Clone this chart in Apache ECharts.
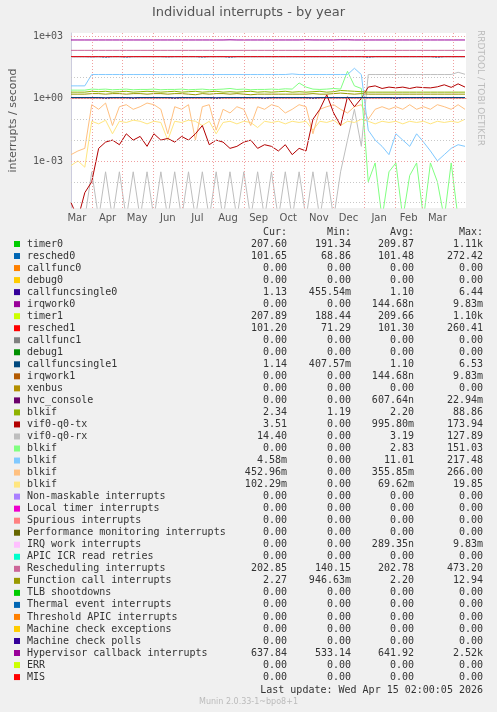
<!DOCTYPE html>
<html><head><meta charset="utf-8">
<script src="https://cdn.jsdelivr.net/npm/echarts@6/dist/echarts.min.js"></script>
<style>html,body{margin:0;background:#f0f0f0}#c{width:497px;height:712px}</style>
</head><body><div id="c"></div>
<script>
// ---- data ----
const startDate = '2025-03-10';
const endDate = '2026-04-14';
const monthStarts = ['2025-04-01','2025-05-01','2025-06-01','2025-07-01','2025-08-01','2025-09-01','2025-10-01','2025-11-01','2025-12-01','2026-01-01','2026-02-01','2026-03-01','2026-04-01'];
const monthLabelDates = ['2025-03-16','2025-04-16','2025-05-16','2025-06-16','2025-07-16','2025-08-16','2025-09-16','2025-10-16','2025-11-16','2025-12-16','2026-01-16','2026-02-15','2026-03-16'];
const monthNames = ['Mar','Apr','May','Jun','Jul','Aug','Sep','Oct','Nov','Dec','Jan','Feb','Mar'];
const yTickValues = [1e3, 1, 1e-3];
const yTickLabels = ['1e+03','1e+00','1e-03'];
const decades = [1e3,1e2,1e1,1,1e-1,1e-2,1e-3,1e-4,1e-5];

// weekly samples (58 weeks from Mar 10 2025)
const hypervisor = [638,638,638,638,638,638,638,638,638,638,638,638,638,638,638,638,638,638,638,638,638,638,638,650,638,638,638,638,638,638,638,638,638,638,650,640,638,638,638,650,650,638,638,638,638,638,638,638,638,638,638,638,638,638,638,638,638,638];
const rescheduling = [203,203,203,203,203,203,203,203,203,203,203,203,203,203,203,203,203,203,203,203,203,203,203,203,203,203,203,203,203,203,203,203,203,203,203,203,203,203,203,203,203,203,203,203,203,203,203,203,203,203,203,203,203,203,203,203,203,203];
const resched0 = [101,101,101,98,101,95,101,101,96,101,101,101,101,101,98,101,101,101,101,96,101,101,101,95,101,101,101,101,101,101,101,101,101,101,101,101,101,101,101,101,101,101,101,95,101,101,101,101,101,101,101,101,101,95,101,101,101,101];
const resched1 = [101,101,101,101,101,101,101,101,101,101,101,101,101,101,101,101,101,101,101,101,101,101,101,101,101,101,101,101,101,101,101,101,101,101,101,101,101,101,101,101,101,101,101,101,101,101,101,101,101,101,101,101,101,101,101,101,101,101];
const blkifBlue = [4,4,4,14,14,14,14,14,14,14,14,14,14,14,14,14,14,14,14,14,14,14,14,14,14,14,14,14,14,14,14,14,15,14,14,14,14,14,14,14,14,28,14,0.03,0.01,0.005,0.002,0.02,0.01,0.005,0.02,0.008,0.003,0.001,0.002,0.004,0.006,0.005];
const vifRx = [0,0,0,0.0003,0,0.0003,0,0.0003,0,0.0003,0,0.0003,0,0.0003,0,0.0003,0,0.0003,0,0.0003,0,0.0003,0,0.0003,0,0.0003,0,0.0003,0,0.0003,0,0.0003,0,0.0003,0,0.0003,0,0.0003,0,0.0003,0.01,0.3,0.005,14,14,14,14,14,14,14,14,14,14,14,14,14,18,14.4];
const vifTx = [0.00001,0,0.00003,0.0001,0.004,0.008,0.01,0.006,0.02,0.01,0.015,0.005,0.02,0.01,0.012,0.008,0.015,0.01,0.02,0.05,0.006,0.01,0.008,0.004,0.005,0.008,0.01,0.004,0.006,0.005,0.003,0.006,0.002,0.004,0.003,0.1,0.3,1.5,0.2,0.05,1.2,0.4,1,3.5,4,3,3.5,3.2,3.5,3,3.5,3.3,3.2,3.6,4.5,3.4,5,3.5];
const blkifGreen = [2.5,2.5,2.5,2.8,2.7,2.8,2.6,2.7,2.8,2.6,2.7,2.7,2.8,2.6,2.7,2.7,2.8,2.6,2.7,2.8,2.6,2.7,2.8,3,2.7,2.8,2.6,2.7,2.7,2.8,2.7,2.9,2.8,5.5,3.5,2.8,2.7,2.8,3,2.8,20,4,3,0.0001,0.0008,0,0.0003,0.0008,0,0.0002,0.0008,0,0.0008,0.0001,0,0.0008,0,0];
const blkifOlive = [2,2,2,2.2,2.1,2.2,2,2.1,2.2,2,2.1,2.2,2.1,2,2.1,2.2,2,2.1,2.2,2,2.1,2.2,2,2.1,2,2.1,2.2,2,2.1,2,2.1,2.2,2,2.1,2,2.1,2.2,2,2.1,2.4,2.3,2.2,2.1,2,2,2,2,2,2,2,2,2,2,2,2,2,2,2];
const funcCall = [1.6,1.6,1.6,1.7,1.7,1.6,1.7,1.7,1.6,1.7,1.7,1.6,1.7,1.7,1.6,1.7,1.7,1.6,1.5,1.7,1.6,1.7,1.7,1.6,1.7,1.6,1.5,1.6,1.6,1.6,1.6,1.6,1.6,1.6,1.6,1.7,1.6,1.6,1.7,1.8,1.7,1.6,1.7,1.6,1.6,1.6,1.6,1.6,1.6,1.6,1.6,1.6,1.6,1.6,1.6,1.6,1.6,1.6];
const callfuncsingle = [1.1,1.1,1.1,1.1,1.1,1.05,1.1,1.1,1.1,1.05,1.1,1.1,1.1,1.1,1.1,1.05,1.1,1.1,1.1,1.1,1.1,1.05,1.1,1.1,1.1,1.1,1.1,1.1,1.05,1.1,1.1,1.1,1.1,1.1,1.1,1.05,1.1,1.1,1.1,1.1,1.1,1.1,1.1,1.1,1.1,1.1,1.1,1.05,1.1,1.1,1.1,1.1,1.1,1.1,1.1,1.1,1.1,1.1];
const blkifOrange = [0.002,0.003,0.004,0.5,0.3,0.6,0.05,0.4,0.5,0.3,0.4,0.6,0.5,0.3,0.02,0.4,0.3,0.5,0.01,0.4,0.5,0.03,0.3,0.2,0.4,0.3,0.05,0.4,0.3,0.5,0.4,0.2,0.3,0.5,0.4,0.02,0.3,0.4,0.5,0.3,0.2,0.4,0.5,0.1,0.3,0.4,0.3,0.4,0.3,0.5,0.3,0.4,0.3,0.5,0.4,0.3,0.5,0.3];
const blkifYellow = [0.0006,0.001,0.0005,0.08,0.06,0.09,0.02,0.08,0.07,0.09,0.08,0.06,0.08,0.07,0.01,0.08,0.07,0.09,0.08,0.05,0.08,0.02,0.07,0.08,0.06,0.08,0.07,0.04,0.08,0.07,0.08,0.06,0.08,0.07,0.08,0.03,0.08,0.07,0.09,0.05,0.08,0.07,0.1,0.08,0.06,0.08,0.07,0.08,0.06,0.08,0.07,0.08,0.06,0.08,0.07,0.08,0.07,0.1];

// legend table
const legNames = ['timer0','resched0','callfunc0','debug0','callfuncsingle0','irqwork0','timer1','resched1','callfunc1','debug1','callfuncsingle1','irqwork1','xenbus','hvc_console','blkif','vif0-q0-tx','vif0-q0-rx','blkif','blkif','blkif','blkif','Non-maskable interrupts','Local timer interrupts','Spurious interrupts','Performance monitoring interrupts','IRQ work interrupts','APIC ICR read retries','Rescheduling interrupts','Function call interrupts','TLB shootdowns','Thermal event interrupts','Threshold APIC interrupts','Machine check exceptions','Machine check polls','Hypervisor callback interrupts','ERR','MIS'];
const legColors = ['#00cc00','#0066b3','#ff8000','#ffcc00','#330099','#990099','#ccff00','#ff0000','#808080','#008f00','#00487d','#b35a00','#b38f00','#6b006b','#8fb300','#b30000','#bebebe','#80ff80','#80c9ff','#ffc080','#ffe680','#aa80ff','#ee00cc','#ff8080','#666600','#ffbfff','#00ffcc','#cc6699','#999900','#00cc00','#0066b3','#ff8000','#ffcc00','#330099','#990099','#ccff00','#ff0000'];
const legCur = ['207.60','101.65','0.00','0.00','1.13','0.00','207.89','101.20','0.00','0.00','1.14','0.00','0.00','0.00','2.34','3.51','14.40','0.00','4.58m','452.96m','102.29m','0.00','0.00','0.00','0.00','0.00','0.00','202.85','2.27','0.00','0.00','0.00','0.00','0.00','637.84','0.00','0.00'];
const legMin = ['191.34','68.86','0.00','0.00','455.54m','0.00','188.44','71.29','0.00','0.00','407.57m','0.00','0.00','0.00','1.19','0.00','0.00','0.00','0.00','0.00','0.00','0.00','0.00','0.00','0.00','0.00','0.00','140.15','946.63m','0.00','0.00','0.00','0.00','0.00','533.14','0.00','0.00'];
const legAvg = ['209.87','101.48','0.00','0.00','1.10','144.68n','209.66','101.30','0.00','0.00','1.10','144.68n','0.00','607.64n','2.20','995.80m','3.19','2.83','11.01','355.85m','69.62m','0.00','0.00','0.00','0.00','289.35n','0.00','202.78','2.20','0.00','0.00','0.00','0.00','0.00','641.92','0.00','0.00'];
const legMax = ['1.11k','272.42','0.00','0.00','6.44','9.83m','1.10k','260.41','0.00','0.00','6.53','9.83m','0.00','22.94m','88.86','173.94','127.89','151.03','217.48','266.00','19.85','0.00','0.00','0.00','0.00','9.83m','0.00','473.20','12.94','0.00','0.00','0.00','0.00','0.00','2.52k','0.00','0.00'];

// ---- build ----
const FLOOR = -5.26, TOP = 3.14;
const D = s => Date.parse(s + 'T00:00:00Z');
const t0 = D(startDate);
const weekTimes = hypervisor.map((_, i) => t0 + i * 7 * 86400000);
const lg = v => Math.max(Math.log10(Math.max(v, 1e-9)), FLOOR - 0.5);
function line(data, color, w) {
  return {type:'line', symbol:'none', animation:false, silent:true, clip:true,
    lineStyle:{color, width:w||1}, data: data.map((v, i) => [weekTimes[i], lg(v)])};
}
const labelTimes = monthLabelDates.map(D);
const tickLogs = yTickValues.map(v => Math.log10(v));
const series = [
  {type:'line', data:[], silent:true, markLine:{symbol:'none', silent:true, animation:false, label:{show:false},
    data: decades.map(d => ({yAxis: Math.log10(d), lineStyle:{color: yTickValues.includes(d) ? '#f0a0a0' : '#c8c8c8', type:[1,2], width:1}}))
      .concat(monthStarts.map(m => ({xAxis: D(m), lineStyle:{color:'#f0a0a0', type:[1,2], width:1}})))}},
  line(vifRx, '#bebebe'),
  line(blkifYellow, '#ffe680'),
  line(blkifOrange, '#ffc080'),
  line(vifTx, '#b30000'),
  line(blkifGreen, '#80ff80'),
  line(blkifBlue, '#80c9ff'),
  line(callfuncsingle, '#330099'),
  line(callfuncsingle, '#00487d'),
  line(funcCall, '#999900'),
  line(blkifOlive, '#8fb300'),
  line(resched0, '#0066b3'),
  line(resched1, '#ff0000'),
  line(rescheduling, '#cc6699'),
  line(hypervisor, '#990099')
];

const graphic = [];
const mono = '"DejaVu Sans Mono", monospace';
const col = '#333';
graphic.push({type:'text', left:'center', top:6, style:{text:'Individual interrupts - by year', font:'13px "DejaVu Sans"', fill:'#555'}});
graphic.push({type:'text', x:485, y:30, rotation:-Math.PI/2, style:{text:'RRDTOOL / TOBI OETIKER', font:'9px "DejaVu Sans"', fill:'#bbb'}});
[['Cur:',287],['Min:',351],['Avg:',414],['Max:',483]].forEach(([t,x]) =>
  graphic.push({type:'text', x, y:227, style:{text:t, font:'10px '+mono, fill:col, align:'right'}}));
legNames.forEach((n, i) => {
  const y = 239 + i * 12.03;
  graphic.push({type:'rect', shape:{x:14, y:y+2, width:6, height:6}, style:{fill:legColors[i]}});
  graphic.push({type:'text', x:27, y, style:{text:n, font:'10px '+mono, fill:col}});
  [[legCur,287],[legMin,351],[legAvg,414],[legMax,483]].forEach(([a,x]) =>
    graphic.push({type:'text', x, y, style:{text:a[i], font:'10px '+mono, fill:col, align:'right'}}));
});
graphic.push({type:'text', x:483, y:685, style:{text:'Last update: Wed Apr 15 02:00:05 2026', font:'10px '+mono, fill:col, align:'right'}});
graphic.push({type:'text', left:'center', top:698, style:{text:'Munin 2.0.33-1~bpo8+1', font:'8px "DejaVu Sans"', fill:'#bbb'}});

const chart = echarts.init(document.getElementById('c'), null, {renderer:'canvas'});
chart.setOption({
  backgroundColor:'#f0f0f0', animation:false,
  grid:{left:67, top:33, width:399, height:175, backgroundColor:'#ffffff', show:true, borderWidth:0},
  xAxis:{type:'value', min:D(startDate), max:D(endDate),
    axisLine:{lineStyle:{color:'#e88'}}, axisTick:{show:false}, splitLine:{show:false},
    axisLabel:{customValues: labelTimes, color:'#555', fontFamily:'DejaVu Sans', fontSize:10, margin:5,
      formatter:(v) => monthNames[labelTimes.indexOf(v)] || ''}},
  yAxis:{type:'value', min:FLOOR, max:TOP, name:'interrupts / second', nameLocation:'middle', nameGap:52, nameRotate:90,
    nameTextStyle:{color:'#555', fontFamily:'DejaVu Sans', fontSize:11},
    axisLine:{show:true, lineStyle:{color:'#ccd'}}, axisTick:{show:false}, splitLine:{show:false},
    axisLabel:{customValues: tickLogs, color:'#555', fontFamily:'DejaVu Sans Mono', fontSize:10,
      formatter:(v) => yTickLabels[tickLogs.indexOf(v)] || ''}},
  series, graphic
});
</script></body></html>
